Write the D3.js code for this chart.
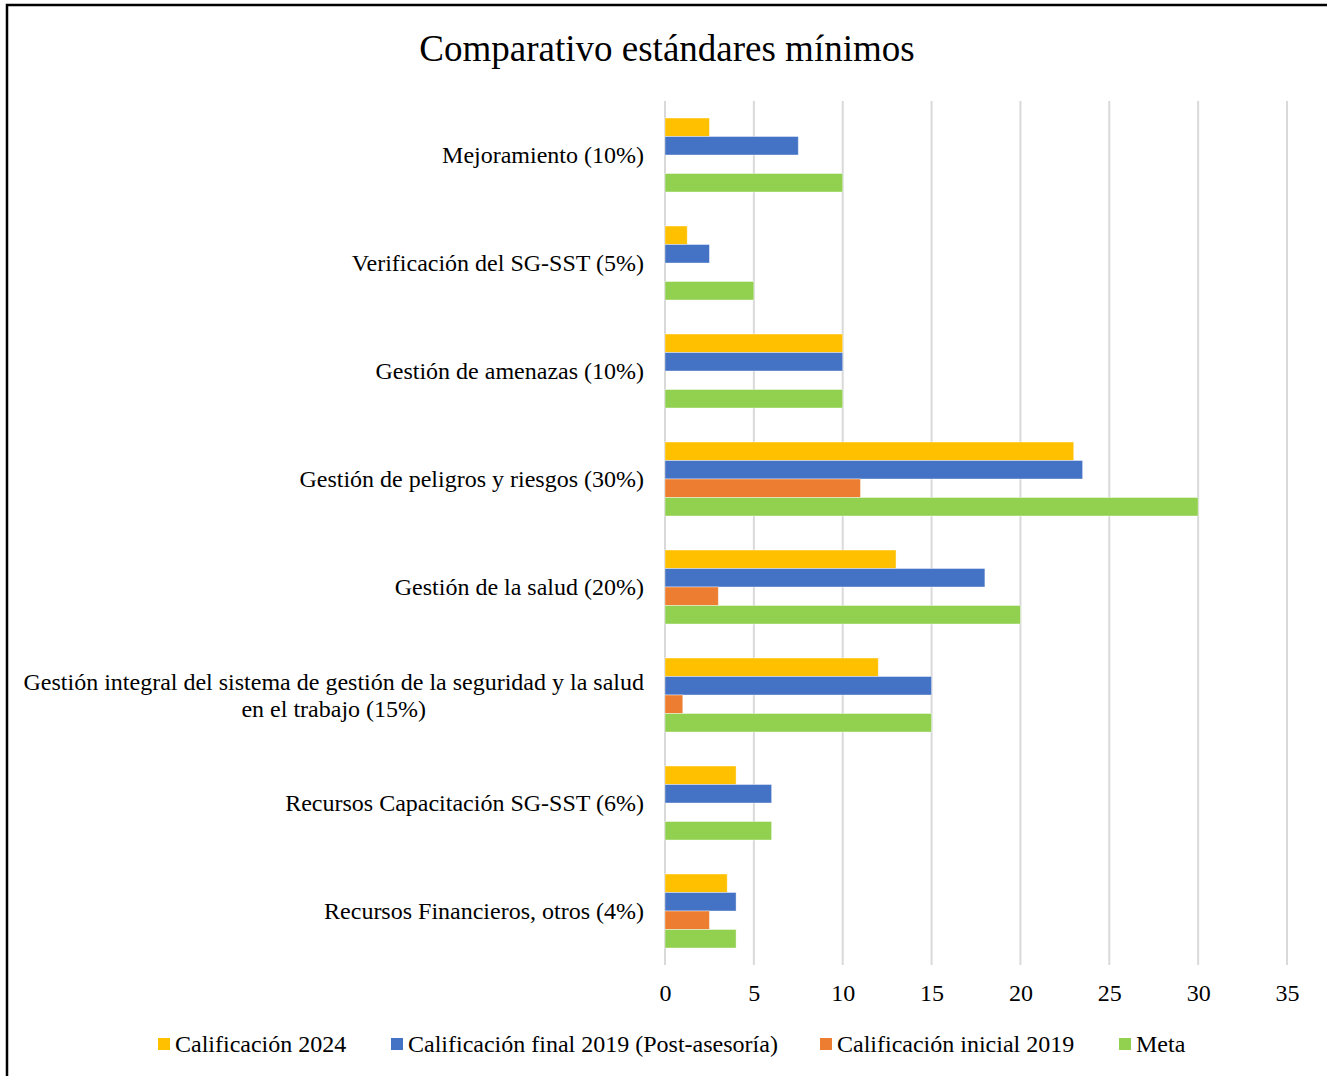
<!DOCTYPE html>
<html>
<head>
<meta charset="utf-8">
<script src="https://cdn.jsdelivr.net/npm/d3@7"></script>
<style>
  body { margin: 0; background: #fff; }
  svg { display: block; font-family: "Liberation Serif", "Times New Roman", serif; }
</style>
</head>
<body>
<svg id="chart" width="1327" height="1076"></svg>
<script>
// categories top to bottom
const categories = [
  ["Mejoramiento (10%)"],
  ["Verificación del SG-SST (5%)"],
  ["Gestión de amenazas (10%)"],
  ["Gestión de peligros y riesgos (30%)"],
  ["Gestión de la salud (20%)"],
  ["Gestión integral del sistema de gestión de la seguridad y la salud", "en el trabajo (15%)"],
  ["Recursos Capacitación SG-SST (6%)"],
  ["Recursos Financieros, otros (4%)"]
]
const seriesNames = ["Calificación 2024", "Calificación final 2019 (Post-asesoría)", "Calificación inicial 2019", "Meta"]
const seriesColors = ["#FFC000", "#4472C4", "#ED7D31", "#92D050"]

const calif2024   = [2.5, 1.25, 10, 23, 13, 12, 4, 3.5]
const califFinal  = [7.5, 2.5, 10, 23.5, 18, 15, 6, 4]
const califInicial = [0, 0, 0, 11, 3, 1, 0, 2.5]
const meta        = [10, 5, 10, 30, 20, 15, 6, 4]
const seriesValues = [calif2024, califFinal, califInicial, meta]

const xTicks = [0, 5, 10, 15, 20, 25, 30, 35]

const svg = d3.select("#chart")

// frame
svg.append("rect").attr("x", 7).attr("y", 5).attr("width", 1325).attr("height", 1080)
  .attr("fill", "none").attr("stroke", "#000").attr("stroke-width", 2.5)

svg.append("text").attr("x", 667).attr("y", 61).attr("text-anchor", "middle")
  .attr("font-size", 37).text("Comparativo estándares mínimos")

const x = d3.scaleLinear().domain([0, 35]).range([665, 1287])
const y = d3.scaleBand().domain(d3.range(categories.length)).range([101, 965]).paddingInner(0.315).paddingOuter(0.1575)
const ySub = d3.scaleBand().domain(d3.range(seriesNames.length)).range([0, y.bandwidth()])

// gridlines
svg.append("g").selectAll("line").data(xTicks).join("line")
  .attr("x1", d => x(d)).attr("x2", d => x(d))
  .attr("y1", 101).attr("y2", 965)
  .attr("stroke", "#d9d9d9").attr("stroke-width", 2)

// bars
const groups = svg.append("g").selectAll("g").data(categories).join("g")
  .attr("transform", (d, i) => `translate(0,${y(i)})`)

groups.selectAll("rect")
  .data((d, i) => seriesValues.map((vals, s) => ({ s, v: vals[i] })))
  .join("rect")
  .attr("x", x(0))
  .attr("y", d => ySub(d.s))
  .attr("width", d => x(d.v) - x(0))
  .attr("height", ySub.bandwidth())
  .attr("fill", d => seriesColors[d.s])
  .attr("stroke", d => d.v > 0 ? "#fff" : "none")
  .attr("stroke-opacity", 0.5)
  .attr("stroke-width", 0.8)

// category labels (second line centred under the first)
categories.forEach((lines, i) => {
  const cy = y(i) + y.bandwidth() / 2
  const t = svg.append("text").attr("font-size", 24)
  let center = 644
  lines.forEach((ln, k) => {
    const ts = t.append("tspan")
      .attr("y", cy + 8 + (k - (lines.length - 1) / 2) * 27)
      .text(ln)
    if (k === 0) {
      ts.attr("x", 644).attr("text-anchor", "end")
      center = 644 - ts.node().getComputedTextLength() / 2
    } else {
      ts.attr("x", center).attr("text-anchor", "middle")
    }
  })
})

// x axis labels
const xAxis = d3.axisBottom(x).tickValues(xTicks).tickSize(0).tickPadding(0)
const ax = svg.append("g").attr("transform", "translate(0,1001)").call(xAxis)
ax.select(".domain").remove()
ax.selectAll("text").attr("dy", 0).attr("y", 0)
  .attr("font-size", 24).attr("font-family", "Liberation Serif, serif").attr("fill", "#000")

// legend
const legX = [158, 391, 820, 1119]
const leg = svg.append("g").selectAll("g").data(seriesNames).join("g")
  .attr("transform", (d, i) => `translate(${legX[i]},1038)`)
leg.append("rect").attr("width", 12).attr("height", 12).attr("fill", (d, i) => seriesColors[i])
leg.append("text").attr("x", 17).attr("y", 14).attr("font-size", 24).text(d => d)
</script>
</body>
</html>
